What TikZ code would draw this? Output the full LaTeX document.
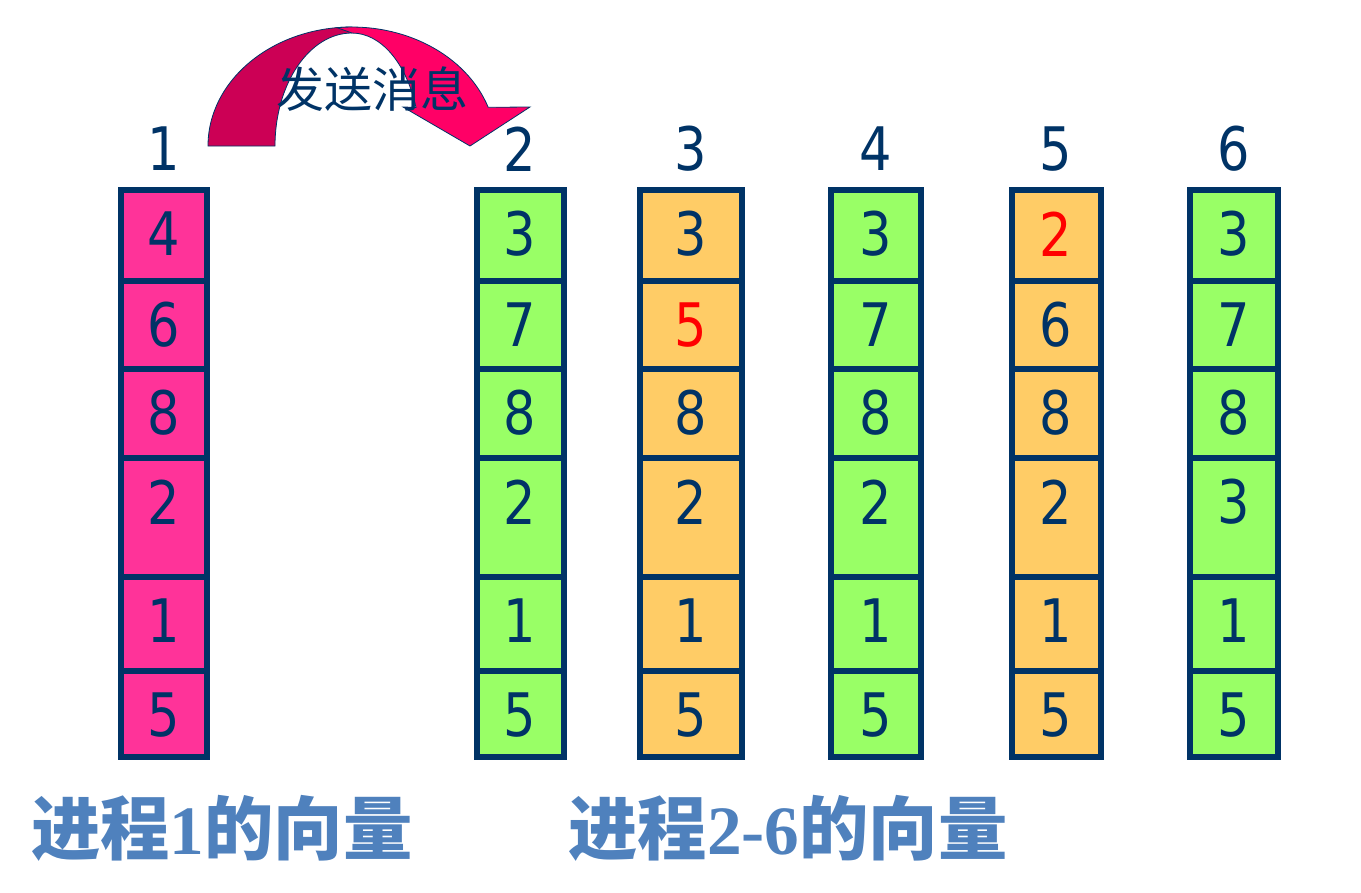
\documentclass[tikz,border=0pt]{standalone}
\usepackage{fontspec}
\usepackage{xcolor}
\usepackage{tikz}
\usetikzlibrary{positioning,calc}
\newfontfamily\cjk{Noto Sans CJK SC}
\newfontfamily\numfont[FakeStretch=0.85]{DejaVu Sans}
\newfontfamily\labfont{Liberation Serif}
\definecolor{navy}{RGB}{0,51,102}
\definecolor{procpink}{RGB}{255,51,153}
\definecolor{procgreen}{RGB}{153,255,102}
\definecolor{procorange}{RGB}{255,204,102}
\definecolor{backred}{RGB}{204,0,85}
\definecolor{frontred}{RGB}{255,0,102}
\definecolor{capblue}{RGB}{79,129,189}
\newcommand\redval[1]{\textcolor{red}{#1}}

\begin{document}
\begin{tikzpicture}[
    x=0.75pt,y=-0.75pt,
    cell/.style={draw=navy,line width=4.5pt,inner sep=0pt},
    num/.style={font=\numfont\fontsize{45}{50}\selectfont,text=navy,inner sep=0pt},
    caption/.style={font=\cjk\bfseries\fontsize{52}{58}\selectfont,text=capblue,inner sep=0pt},
    band/.style={draw=navy,line width=0.6pt}
  ]
    \useasboundingbox (0,0) rectangle (1361,893);
    % send-message arrow
    \draw[band,fill=backred] (208,146) arc[start angle=180,end angle=270,x radius=144,y radius=119]
      -- (352,33) arc[start angle=270,end angle=180,x radius=77,y radius=113] -- cycle;
    \draw[band,fill=frontred] (337,27.7) arc[start angle=264,end angle=341,x radius=144,y radius=119]
      -- (530,107) -- (470,146) -- (403,107) -- (416,107.4)
      arc[start angle=340,end angle=270,x radius=68,y radius=113] -- cycle;
    \node[font=\cjk\fontsize{36}{40}\selectfont,text=navy,inner sep=0pt] (msg) at (372,89) {发送消息};
    % process vectors
    \foreach \c/\cx/\w/\fillc/\vals in {
        1/164/86/procpink/{4,6,8,2,1,5},
        2/520/87/procgreen/{3,7,8,2,1,5},
        3/691/102/procorange/{3,\redval{5},8,2,1,5},
        4/876/90/procgreen/{3,7,8,2,1,5},
        5/1056/89/procorange/{\redval{2},6,8,2,1,5},
        6/1234/88/procgreen/{3,7,8,3,1,5}} {
      \node[num] (h\c) at (\cx,149) {\c};
      \foreach \v [count=\r] in \vals {
        \pgfmathsetmacro\rtop{{190,281,369,458,577,671}[\r-1]}
        \pgfmathsetmacro\rh{{91,88,89,119,94,86}[\r-1]}
        \node[cell,fill=\fillc,minimum width=\w*0.75pt,minimum height=\rh*0.75pt]
          (c\c-\r) at (\cx,\rtop+\rh/2) {};
        \node[num] (v\c-\r) at ($(c\c-\r.north)+(0,47)$) {\v};
      }
    }
    \node[caption] (lab1) at (222,828) {进程{\labfont\bfseries 1}的向量};
    \node[caption] (lab2) at (788,828) {进程{\labfont\bfseries 2-6}的向量};
  \end{tikzpicture}
\end{document}
